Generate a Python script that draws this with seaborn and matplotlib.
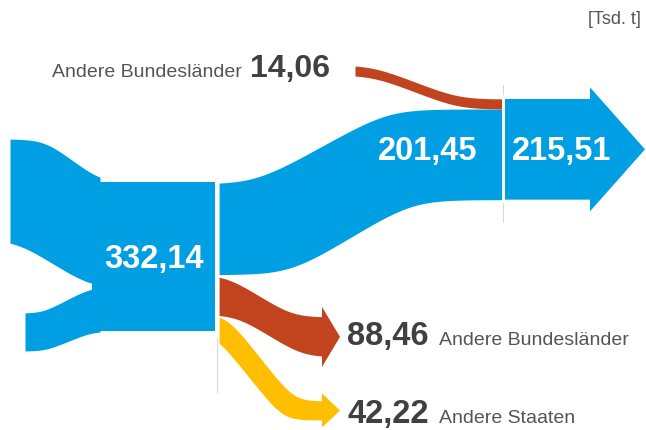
import numpy as np
import seaborn as sns
import matplotlib.pyplot as plt

# Werte in Tsd. t
zufluss = [234.70, 97.44]          # zwei Zuflüsse (ohne Beschriftung)
gesamt = 332.14
weiter = 201.45
zufuhr_bl = 14.06
ergebnis = 215.51
abfluss = [88.46, 42.22]
abfluss_text = ["Andere Bundesländer", "Andere Staaten"]
zufuhr_text = "Andere Bundesländer"
einheit = "[Tsd. t]"

sns.set_theme(style="white")
plt.rcParams['font.family'] = ['Liberation Sans', 'DejaVu Sans']

blau, rot, gelb = sns.color_palette(["#009fe3", "#c1441f", "#ffbf00"])
dunkel = "#404040"
grau = "#555555"

s = 0.45  # Pixel je Tsd. t


def fmt(v):
    return f"{v:.2f}".replace(".", ",")


def rampe(x, a, b, y0, y1, k=10):
    # lineare Rampe mit abgerundeten Ecken
    z = k * np.logaddexp(0, (x - a) / k) - k * np.logaddexp(0, (x - b) / k)
    return y0 + (y1 - y0) * np.clip(z / (b - a), 0, 1)


def band(ax, x, oben, unten, farbe):
    ax.fill_between(x, oben, unten, color=farbe, lw=0, zorder=2)


fig = plt.figure(figsize=(6.46, 4.30), dpi=100)
ax = fig.add_axes([0, 0, 1, 1])
ax.set_xlim(0, 646)
ax.set_ylim(430, 0)
ax.axis("off")

# Zuflüsse
box_top = 182
h1 = zufluss[0] * s
h2 = zufluss[1] * s
x = np.linspace(10, 100, 200)
band(ax, x, rampe(x, 45, 100, 139, box_top, 9),
     rampe(x, 16, 90, 240, box_top + h1, 11), blau)
x = np.linspace(25, 100, 200)
band(ax, x, rampe(x, 42, 90, 313, box_top + h1, 6),
     rampe(x, 45, 92, 351, box_top + h1 + h2, 6), blau)

# Knoten
ax.fill_between([92, 215], box_top, box_top + gesamt * s, color=blau, lw=0, zorder=2)

# Weiterfluss
o0 = 184
rt = 109
x = np.linspace(219, 503, 400)
band(ax, x, rampe(x, 255, 388, o0, rt, 16),
     rampe(x, 290, 412, o0 + weiter * s, rt + weiter * s, 16), blau)

# Zufuhr aus anderen Bundesländern
dicke = 10
x = np.linspace(355, 502, 300)
yo = rampe(x, 372, 458, 65, rt - dicke, 12)
band(ax, x, yo, yo + dicke, rot)

# Pfeil Ergebnis
p_top, p_bot = rt - dicke, rt + weiter * s
mitte = (p_top + p_bot) / 2
ax.fill([505, 590, 590, 645, 590, 590, 505],
        [p_top, p_top, mitte - 62, mitte, mitte + 62, p_bot, p_bot],
        color=blau, lw=0, zorder=2)

# Abflüsse
a0 = o0 + weiter * s
ha = abfluss[0] * s
x = np.linspace(219, 323, 300)
band(ax, x, rampe(x, 226, 292, a0, 317, 10),
     rampe(x, 236, 302, a0 + ha, 317 + ha, 10), rot)
m = 317 + ha / 2
ax.fill([322, 340, 322], [m - 30, m, m + 30], color=rot, lw=0, zorder=2)

g0 = a0 + ha
hg = abfluss[1] * s
band(ax, x, rampe(x, 226, 294, g0, 401, 7),
     rampe(x, 214, 283, g0 + hg, 401 + hg, 7), gelb)
m = 401 + hg / 2
ax.fill([322, 340, 322], [m - 17, m, m + 17], color=gelb, lw=0, zorder=2)

# Trennlinien
ax.plot([217, 217], [178, 392], color="#d9d9d9", lw=0.8, zorder=1)
ax.plot([217, 217], [180, 336], color="white", lw=2.5, zorder=3)
ax.plot([503, 503], [85, 222], color="#d9d9d9", lw=0.8, zorder=1)
ax.plot([503, 503], [96, 201], color="white", lw=2.0, zorder=3)

# Beschriftung
weiss = dict(color="white", fontsize=23.5, fontweight="bold", va="baseline", ha="center", zorder=4)
ax.text(154, 268, fmt(gesamt), **weiss)
ax.text(428, 160, fmt(weiter), **weiss)
ax.text(562, 160, fmt(ergebnis), **weiss)

ax.text(242, 77, zufuhr_text, color=grau, fontsize=14, ha="right", va="baseline")
ax.text(250, 77, fmt(zufuhr_bl), color=dunkel, fontsize=23, fontweight="bold",
        ha="left", va="baseline")

for yb, v, t in zip([345, 423], abfluss, abfluss_text):
    ax.text(347, yb, fmt(v), color=dunkel, fontsize=23.5, fontweight="bold",
            ha="left", va="baseline")
    ax.text(439, yb, t, color=grau, fontsize=14, ha="left", va="baseline")

ax.text(641, 24, einheit, color=grau, fontsize=13, ha="right", va="baseline")

fig.savefig("out.png", dpi=100)
